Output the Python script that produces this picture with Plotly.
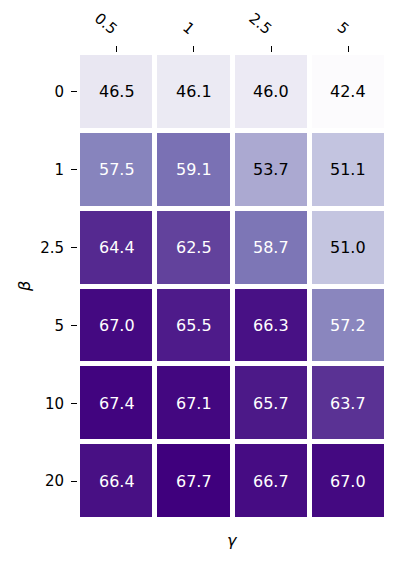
import plotly.graph_objects as go

# Heatmap values: rows = beta, columns = gamma
gamma_labels = ["0.5", "1", "2.5", "5"]
beta_labels = ["0", "1", "2.5", "5", "10", "20"]

row_b0 = [46.5, 46.1, 46.0, 42.4]
row_b1 = [57.5, 59.1, 53.7, 51.1]
row_b2_5 = [64.4, 62.5, 58.7, 51.0]
row_b5 = [67.0, 65.5, 66.3, 57.2]
row_b10 = [67.4, 67.1, 65.7, 63.7]
row_b20 = [66.4, 67.7, 66.7, 67.0]

z = [row_b0, row_b1, row_b2_5, row_b5, row_b10, row_b20]

zmin = min(min(r) for r in z)
zmax = max(max(r) for r in z)
threshold = (zmin + zmax) / 2

font_family = "DejaVu Sans"

fig = go.Figure(go.Heatmap(
    z=z,
    x=gamma_labels,
    y=beta_labels,
    colorscale="Purples",
    zmin=zmin,
    zmax=zmax,
    xgap=5,
    ygap=5,
    showscale=False,
    hovertemplate="γ=%{x}<br>β=%{y}<br>%{z:.1f}<extra></extra>",
))

# cell labels, white on dark cells
annotations = []
for i, b in enumerate(beta_labels):
    for j, g in enumerate(gamma_labels):
        v = z[i][j]
        annotations.append(dict(
            x=j, y=i, xref="x", yref="y",
            text=f"{v:.1f}", showarrow=False,
            font=dict(size=16, family=font_family,
                      color="white" if v > threshold else "black"),
        ))

# axis titles (x axis ticks sit on top, title below)
annotations.append(dict(
    x=0.5, y=-0.02, xref="paper", yref="paper",
    text="<i>γ</i>", showarrow=False, yanchor="top",
    font=dict(size=16, family=font_family, color="black"),
))
annotations.append(dict(
    x=-0.21, y=0.5, xref="paper", yref="paper",
    text="<i>β</i>", showarrow=False, textangle=-90,
    font=dict(size=16, family=font_family, color="black"),
))

# page body adds an 8px margin, so the figure is a bit smaller than the window
fig.update_layout(
    width=391,
    height=554,
    margin=dict(l=70, r=12, t=45, b=42, autoexpand=False),
    plot_bgcolor="white",
    paper_bgcolor="white",
    font=dict(family=font_family, size=15, color="black"),
    annotations=annotations,
    xaxis=dict(
        type="category",
        side="top",
        tickangle=40,
        ticks="outside",
        ticklen=6,
        tickcolor="black",
        showgrid=False,
        zeroline=False,
        showline=False,
        tickfont=dict(size=15),
        ticklabelstandoff=3,
        automargin=False,
    ),
    yaxis=dict(
        type="category",
        autorange="reversed",
        ticks="outside",
        ticklen=6,
        tickcolor="black",
        showgrid=False,
        zeroline=False,
        showline=False,
        tickfont=dict(size=15),
        ticklabelstandoff=4,
        automargin=False,
    ),
)

fig.write_html("out.html")
